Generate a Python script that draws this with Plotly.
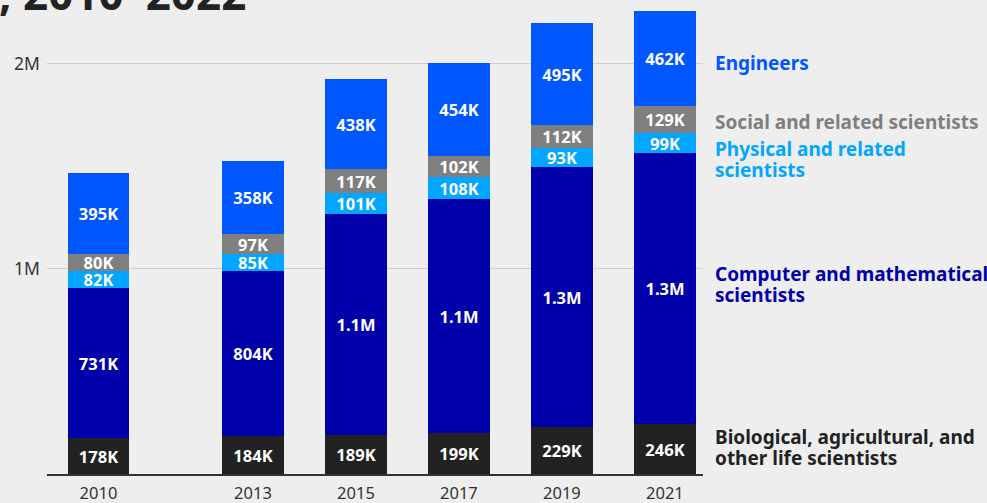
import plotly.graph_objects as go
import numpy as np

years = [2010, 2013, 2015, 2017, 2019, 2021]
series_names = [
    "Biological, agricultural, and|other life scientists",
    "Computer and mathematical|scientists",
    "Physical and related|scientists",
    "Social and related scientists",
    "Engineers",
]
biological = [178e3, 184e3, 189e3, 199e3, 229e3, 246e3]
computer = [731e3, 804e3, 1080e3, 1140e3, 1270e3, 1320e3]
physical = [82e3, 85e3, 101e3, 108e3, 93e3, 99e3]
social = [80e3, 97e3, 117e3, 102e3, 112e3, 129e3]
engineers = [395e3, 358e3, 438e3, 454e3, 495e3, 462e3]
colors = ["#222222", "#0000AA", "#00A6FF", "#7F7F7F", "#0057FF"]
label_colors = ["#222222", "#0000AA", "#00A6FF", "#7F7F7F", "#0057FF"]

series = [biological, computer, physical, social, engineers]
ytick_vals = [1e6, 2e6]
ytick_text = ["1M", "2M"]


def fmt(v):
    if v >= 1e6:
        return f"{v/1e6:.1f}M"
    return f"{round(v/1e3):.0f}K"


FONT = "Noto Sans"
fig = go.Figure()
for name, vals, col in zip(series_names, series, colors):
    fig.add_trace(go.Bar(
        x=years, y=vals, name=name.replace("|", " "),
        marker=dict(color=col, line=dict(width=0)),
        width=1.2,
        text=[fmt(v) for v in vals], textposition="inside",
        insidetextanchor="middle", textangle=0,
        textfont=dict(family=FONT, size=16.5, color="white", weight="bold"),
        cliponaxis=False,
    ))

# right-side series labels aligned to the last bar's segments
last = np.array([s[-1] for s in series])
mids = np.cumsum(last) - last / 2
shifts = [1, 4, -17, -3, -4]
LINE = 21
annotations = []
for name, m, col, sh in zip(series_names, mids, label_colors, shifts):
    lines = name.split("|")
    n = len(lines)
    for i, ln in enumerate(lines):
        off = ((n - 1) / 2 - i) * LINE
        annotations.append(dict(
            x=1, xref="paper", xanchor="left", xshift=10, y=m, yref="y",
            yanchor="middle", yshift=sh + off, text=f"<b>{ln}</b>",
            showarrow=False, align="left",
            font=dict(family=FONT, size=19, color=col),
        ))
annotations.append(dict(
    x=0, xref="paper", xanchor="left", xshift=-50, y=1, yref="paper",
    yanchor="bottom", yshift=-25, text="<b>, 2010–2022</b>", showarrow=False,
    font=dict(family=FONT, size=44, color="#222222"),
))

fig.update_layout(
    barmode="stack", width=987, height=503,
    margin=dict(l=47, r=284, t=0, b=29),
    paper_bgcolor="#EEEEEE", plot_bgcolor="#EEEEEE",
    showlegend=False, bargap=0,
    uniformtext=dict(minsize=16.5, mode="show"),
    annotations=annotations,
    font=dict(family=FONT),
)
fig.update_xaxes(
    range=[2009.0, 2021.74], tickvals=years, ticktext=[str(y) for y in years],
    showgrid=False, showline=True, linecolor="#333333", linewidth=2,
    ticks="", tickfont=dict(family=FONT, size=16.5, color="#333333"),
    ticklabelstandoff=3, zeroline=False,
)
fig.update_yaxes(
    range=[0, 2.312e6], tickvals=ytick_vals, ticktext=ytick_text,
    showgrid=True, gridcolor="#CCCCCC", gridwidth=1, zeroline=False,
    ticks="", tickfont=dict(family=FONT, size=17.5, color="#333333"),
    ticklabelstandoff=6,
)
fig.write_html("out.html")
